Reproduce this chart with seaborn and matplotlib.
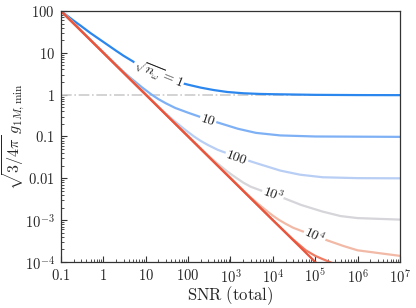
import numpy as np
import pandas as pd
import matplotlib
matplotlib.use("Agg")
import matplotlib.pyplot as plt
import seaborn as sns

# ── values ─────────────────────────────────────────────────────────────────
snr_1 = [0.1, 0.2, 0.3, 0.5, 1, 2, 3, 5.3, 10, 20, 30, 50, 76, 100, 200, 400, 830, 2e3, 5e3, 1e4, 1e5, 1e6, 1e7]
g_1 = [100, 58.5, 43.5, 29.5, 18.2, 11.2, 8.5, 6.0, 4.25, 3.0, 2.5, 2.1, 1.86, 1.73, 1.47, 1.29, 1.16, 1.08, 1.04, 1.025, 0.99, 0.977, 0.973]

snr_10 = [0.1, 1, 2, 3, 4.5, 6, 8, 10, 13.8, 20, 30, 50, 100, 190, 470, 1.5e3, 4e3, 1.5e4, 1e5, 1e6, 1e7]
g_10 = [100, 10.3, 5.15, 3.5, 2.45, 1.93, 1.52, 1.28, 1.0, 0.78, 0.62, 0.48, 0.37, 0.295, 0.22, 0.153, 0.122, 0.106, 0.1, 0.099, 0.098]

snr_100 = [0.1, 10, 20, 30, 45, 60, 80, 100, 138, 200, 300, 500, 1e3, 1.9e3, 4.7e3, 1.5e4, 4.4e4, 1.5e5, 1e6, 1e7]
g_100 = [100, 1.0, 0.515, 0.35, 0.245, 0.193, 0.152, 0.128, 0.1, 0.078, 0.062, 0.048, 0.037, 0.0295, 0.022, 0.0153, 0.0122, 0.0106, 0.0101, 0.0100]

snr_1e3 = [0.1, 100, 200, 300, 450, 600, 800, 1e3, 1.38e3, 2e3, 3e3, 5e3, 1e4, 1.9e4, 4.7e4, 1.5e5, 4e5, 1e6, 1e7]
g_1e3 = [100, 0.103, 0.0515, 0.035, 0.0245, 0.0193, 0.0152, 0.0128, 0.0102, 0.0079, 0.0063, 0.0052, 0.0041, 0.0033, 0.0023, 0.0016, 0.00125, 0.00112, 0.00103]

snr_1e4 = [0.1, 1e3, 2e3, 3e3, 4.5e3, 6e3, 8e3, 1e4, 1.38e4, 2e4, 3e4, 5e4, 1e5, 1.9e5, 4.7e5, 1e6, 1e7]
g_1e4 = [100, 0.0103, 5.15e-3, 3.5e-3, 2.45e-3, 1.93e-3, 1.52e-3, 1.28e-3, 1.02e-3, 8.2e-4, 6.6e-4, 5.4e-4, 4.3e-4, 3.3e-4, 2.4e-4, 1.9e-4, 1.4e-4]

snr_1e5 = [0.1, 1e4, 3e4, 6e4, 1e5, 1.5e5, 2.2e5, 5e5]
g_1e5 = [100, 1e-3, 3.45e-4, 1.9e-4, 1.4e-4, 1.17e-4, 1.0e-4, 7e-5]

snr_1e6 = [0.1, 1e5, 1e6]
g_1e6 = [100, 1e-4, 1.3e-5]

curve_names = ["1", "10", "100", "1e3", "1e4", "1e5", "1e6"]
curve_snr = [snr_1, snr_10, snr_100, snr_1e3, snr_1e4, snr_1e5, snr_1e6]
curve_g = [g_1, g_10, g_100, g_1e3, g_1e4, g_1e5, g_1e6]
colors = ["#2b86ee", "#7eb0f5", "#b8cef4", "#d5d5da", "#f1b9a6", "#ee7b62", "#e8553d"]

# inline labels: which curve, text, x position, angle
label_curves = ["1", "10", "100", "1e3", "1e4"]
label_texts = [r"$\sqrt{n_\omega} = \mathit{1}$", r"$\mathit{10}$", r"$\mathit{100}$",
               r"$\mathit{10}^{\mathit{3}}$", r"$\mathit{10}^{\mathit{4}}$"]
label_x = [19.9, 298, 1.42e3, 1e4, 9.8e4]
label_rot = [-22, -18, -20, -20, -25]

x_ticks = [0.1, 1, 10, 100, 1e3, 1e4, 1e5, 1e6, 1e7]
x_ticklabels = [r"$0.1$", r"$1$", r"$10$", r"$100$", r"$10^3$", r"$10^4$", r"$10^5$", r"$10^6$", r"$10^7$"]
y_ticks = [1e-4, 1e-3, 0.01, 0.1, 1, 10, 100]
y_ticklabels = [r"$10^{-4}$", r"$10^{-3}$", r"$0.01$", r"$0.1$", r"$1$", r"$10$", r"$100$"]

rows = []
for name, xs, ys in zip(curve_names, curve_snr, curve_g):
    for x, y in zip(xs, ys):
        rows.append({"n": name, "snr": x, "g": y})
df = pd.DataFrame(rows)

sns.set_style("ticks")
plt.rcParams["mathtext.fontset"] = "cm"
plt.rcParams["xtick.direction"] = "in"
plt.rcParams["ytick.direction"] = "in"

fig = plt.figure(figsize=(4.16, 3.08), dpi=100)
ax = fig.add_axes([0.1466, 0.1494, 0.8149, 0.8149])

ax.axhline(1, color="#cccccc", ls="-.", lw=1.2, zorder=1)
sns.lineplot(data=df, x="snr", y="g", hue="n", hue_order=curve_names,
             palette=colors, estimator=None, sort=False, lw=1.6,
             legend=False, ax=ax, zorder=2)

ax.set_xscale("log")
ax.set_yscale("log")
ax.set_xlim(0.1, 1e7)
ax.set_ylim(1e-4, 100)
ax.set_xticks(x_ticks)
ax.set_xticklabels(x_ticklabels, fontsize=10.5)
ax.set_yticks(y_ticks)
ax.set_yticklabels(y_ticklabels, fontsize=10.5)
ax.xaxis.set_minor_locator(matplotlib.ticker.LogLocator(base=10, subs=np.arange(2, 10), numticks=20))
ax.yaxis.set_minor_locator(matplotlib.ticker.LogLocator(base=10, subs=np.arange(2, 10), numticks=20))
ax.xaxis.set_minor_formatter(matplotlib.ticker.NullFormatter())
ax.yaxis.set_minor_formatter(matplotlib.ticker.NullFormatter())
ax.tick_params(which="major", length=4, width=0.8, color="#333333")
ax.tick_params(axis="x", which="major", pad=4)
ax.tick_params(axis="y", which="major", pad=4.5)
ax.tick_params(which="minor", length=2, width=0.6, color="#333333")
for sp in ax.spines.values():
    sp.set_color("#333333")
    sp.set_linewidth(0.9)

ax.set_xlabel(r"$\mathrm{SNR\ (total)}$", fontsize=12, labelpad=-1)
ax.set_ylabel(r"$\sqrt{3/4\pi}\; g_{1M,\mathrm{min}}$", fontsize=11.5)
ax.yaxis.set_label_coords(-0.10, 0.5)

# inline labels placed on the curves
for name, txt, lx, rot in zip(label_curves, label_texts, label_x, label_rot):
    i = curve_names.index(name)
    ly = 10 ** np.interp(np.log10(lx), np.log10(curve_snr[i]), np.log10(curve_g[i]))
    ax.text(lx, ly, txt, rotation=rot, rotation_mode="anchor",
            ha="center", va="center", fontsize=10, color="#222222",
            bbox=dict(facecolor="white", edgecolor="none", pad=0.6), zorder=5)

fig.savefig("out.png", dpi=100)
